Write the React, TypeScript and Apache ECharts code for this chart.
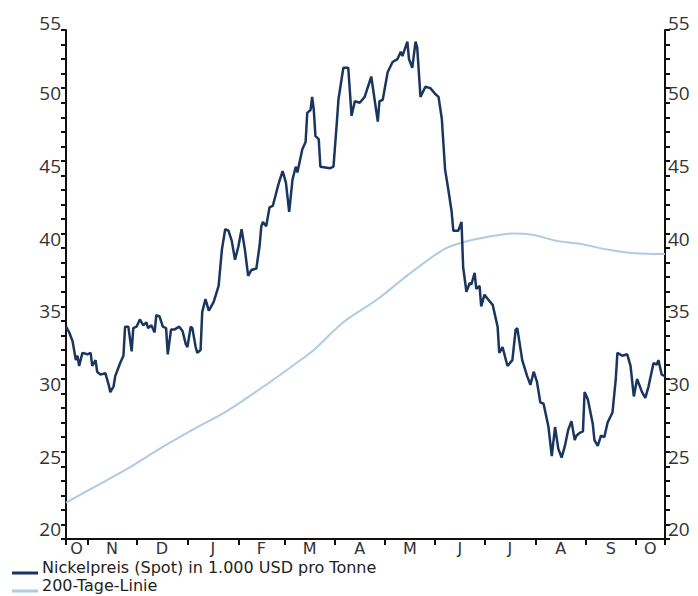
import React, { useEffect, useRef } from "react";
import * as echarts from "echarts";

// x values are days since 19 Oct 2006 (chart spans one year)
const monthLetters = ["O", "N", "D", "J", "F", "M", "A", "M", "J", "J", "A", "S", "O"];
const monthBoundaryDays = [0, 13, 43, 74, 105, 133, 164, 194, 225, 255, 286, 317, 347, 365];

const yTickLabels = [20, 25, 30, 35, 40, 45, 50, 54];

const priceDays = [
  0, 2, 4, 6, 7, 8, 10, 13, 15, 16, 18, 19, 21, 24, 26, 27, 29, 30, 33, 35,
  36, 38, 40, 41, 43, 45, 47, 49, 50, 52, 54, 55, 57, 59, 61, 62, 64, 66, 69, 71,
  73, 74, 76, 77, 79, 80, 82, 83, 85, 87, 88, 90, 93, 95, 97, 99, 101, 103, 105, 107,
  109, 111, 113, 116, 118, 119, 120, 122, 124, 126, 129, 130, 132, 134, 136, 138, 140, 141, 144, 146,
  147, 149, 150, 151, 152, 154, 155, 161, 163, 165, 166, 169, 172, 174, 176, 179, 182, 186, 190, 191,
  193, 196, 199, 202, 204, 205, 208, 209, 211, 213, 214, 216, 219, 222, 225, 227, 229, 231, 233, 235,
  236, 239, 241, 242, 244, 246, 247, 249, 250, 252, 253, 255, 257, 260, 263, 264, 266, 269, 272, 274,
  275, 278, 281, 283, 285, 287, 289, 291, 294, 296, 298, 300, 302, 304, 306, 308, 310, 311, 313, 315,
  316, 318, 321, 322, 324, 326, 328, 330, 333, 335, 336, 339, 342, 344, 346, 348, 351, 353, 355, 358,
  360, 361, 363, 365
];
const priceValues = [
  33.6, 33.2, 32.6, 31.3, 31.6, 30.9, 31.8, 31.7, 31.8, 30.9, 31.3, 30.5, 30.3, 30.4, 29.6, 29.1, 29.5, 30.2, 31.1, 31.6,
  33.6, 33.6, 31.9, 33.5, 33.6, 34.1, 33.7, 33.9, 33.5, 33.7, 33.2, 34.4, 34.3, 33.6, 33.5, 31.7, 33.4, 33.4, 33.6, 33.3,
  32.4, 32.2, 33.6, 33.5, 32.2, 31.8, 32.0, 34.6, 35.5, 34.7, 34.9, 35.3, 36.4, 38.9, 40.3, 40.2, 39.5, 38.2, 39.1, 40.3,
  38.9, 37.1, 37.5, 37.6, 39.2, 40.5, 40.8, 40.5, 41.8, 41.9, 43.2, 43.6, 44.3, 43.5, 41.5, 43.7, 44.6, 44.2, 45.8, 46.3,
  48.3, 48.5, 49.4, 48.5, 46.7, 46.5, 44.6, 44.5, 44.6, 47.6, 49.2, 51.4, 51.4, 48.1, 49.1, 49.0, 49.4, 50.8, 47.7, 49.1,
  49.2, 51.1, 51.8, 52.0, 52.5, 52.2, 53.2, 52.0, 51.4, 53.2, 52.8, 49.4, 50.1, 50.0, 49.6, 49.4, 47.9, 44.4, 43.0, 41.5,
  40.2, 40.2, 40.8, 37.7, 36.0, 36.6, 36.5, 37.3, 36.2, 36.4, 35.0, 35.8, 35.5, 35.1, 33.6, 31.8, 32.2, 30.9, 31.3, 33.4,
  33.5, 31.3, 30.2, 29.6, 30.5, 29.8, 28.4, 28.3, 26.7, 24.7, 26.7, 25.2, 24.6, 25.4, 26.5, 27.1, 25.8, 26.1, 26.3, 26.4,
  29.1, 28.6, 26.9, 25.8, 25.4, 26.1, 26.0, 27.0, 27.7, 30.0, 31.8, 31.6, 31.7, 30.9, 28.8, 30.0, 29.1, 28.7, 29.5, 31.1,
  31.0, 31.3, 30.3, 30.2
];

const maDays = [0, 16, 37, 57, 77, 98, 118, 138, 151, 169, 190, 210, 230, 242, 258, 272, 285, 299, 313, 330, 342, 358, 365];
const maValues = [21.5, 22.5, 23.8, 25.2, 26.5, 27.8, 29.3, 30.9, 32.0, 33.9, 35.5, 37.3, 38.9, 39.4, 39.8, 40.0, 39.9, 39.5, 39.3, 38.9, 38.7, 38.6, 38.6];

const seriesNames = ["Nickelpreis (Spot) in 1.000 USD pro Tonne", "200-Tage-Linie"];

const FONT = "Open Sans";
const FONT_COMPACT = "DejaVu Sans";
// legend icon: thin bar sitting low in its box (tiny top stub keeps the box height)
const LEGEND_ICON = "path://M0,0h0.01v0.01h-0.01z M0,12h26v3h-26z";

export default function App() {
  const ref = useRef<HTMLDivElement>(null);
  useEffect(() => {
    if (!ref.current) return;
    const chart = echarts.init(ref.current, null, { renderer: "svg" });
    const labelDays: number[] = [];
    for (let i = 0; i < monthBoundaryDays.length - 1; i++) {
      labelDays.push((monthBoundaryDays[i] + monthBoundaryDays[i + 1]) / 2);
    }
    const monthFormatter = (v: number) => {
      const i = labelDays.findIndex((d) => Math.abs(d - v) < 0.01);
      return i >= 0 ? monthLetters[i] : "";
    };
    const yFormatter = (v: number) => (v === 54 ? "{t|55}" : String(v));
    const yAxisCommon = {
      type: "value",
      min: 19,
      max: 54,
      interval: 1,
      splitLine: { show: false },
      axisLine: { show: true, lineStyle: { color: "#111", width: 2 } },
      axisTick: { show: true, length: 5, lineStyle: { color: "#111", width: 2 } },
    };
    const labelStyle = {
      color: "#333",
      fontFamily: FONT,
      fontSize: 19,
    };
    const legendCommon = {
      left: 12,
      itemWidth: 26,
      itemHeight: 15,
      itemGap: 0,
      padding: 0,
      icon: LEGEND_ICON,
      textStyle: { color: "#222", fontFamily: FONT_COMPACT, fontSize: 16, padding: [0, 0, 0, -1] },
    };
    chart.setOption({
      animation: false,
      grid: { left: 66, right: 33, top: 30, bottom: 57 },
      legend: [
        { ...legendCommon, data: [seriesNames[0]], top: 559 },
        { ...legendCommon, data: [seriesNames[1]], top: 577 },
      ],
      xAxis: {
        type: "value",
        min: 0,
        max: 365,
        splitLine: { show: false },
        axisLine: { show: true, onZero: false, lineStyle: { color: "#111", width: 2 } },
        axisTick: { show: true, length: 6, customValues: monthBoundaryDays, lineStyle: { color: "#111", width: 2 } },
        axisLabel: {
          color: "#333",
          fontFamily: FONT_COMPACT,
          fontSize: 16,
          margin: 1,
          customValues: labelDays,
          formatter: monthFormatter,
        },
      },
      yAxis: [
        {
          ...yAxisCommon,
          position: "left",
          axisLabel: {
            ...labelStyle,
            margin: 5,
            customValues: yTickLabels,
            formatter: yFormatter,
            padding: [10, 0, 0, 0],
            rich: { t: { ...labelStyle, padding: [0, 0, 24, 0] } },
          },
        },
        {
          ...yAxisCommon,
          position: "right",
          axisLabel: {
            ...labelStyle,
            margin: 3,
            customValues: yTickLabels,
            formatter: yFormatter,
            padding: [10, 0, 0, 0],
            rich: { t: { ...labelStyle, padding: [0, 0, 24, 0] } },
          },
        },
      ],
      series: [
        {
          name: seriesNames[1],
          type: "line",
          symbol: "none",
          smooth: 0.3,
          data: maDays.map((d, i) => [d, maValues[i]]),
          lineStyle: { color: "#aecbe6", width: 2 },
          itemStyle: { color: "#aecbe6" },
          z: 2,
        },
        {
          name: seriesNames[0],
          type: "line",
          symbol: "none",
          data: priceDays.map((d, i) => [d, priceValues[i]]),
          lineStyle: { color: "#1b365e", width: 2.5 },
          itemStyle: { color: "#1b365e" },
          z: 3,
        },
      ],
    });
    return () => chart.dispose();
  }, []);
  return <div ref={ref} style={{ width: 698, height: 596, position: "absolute", left: 0, top: 0 }} />;
}
